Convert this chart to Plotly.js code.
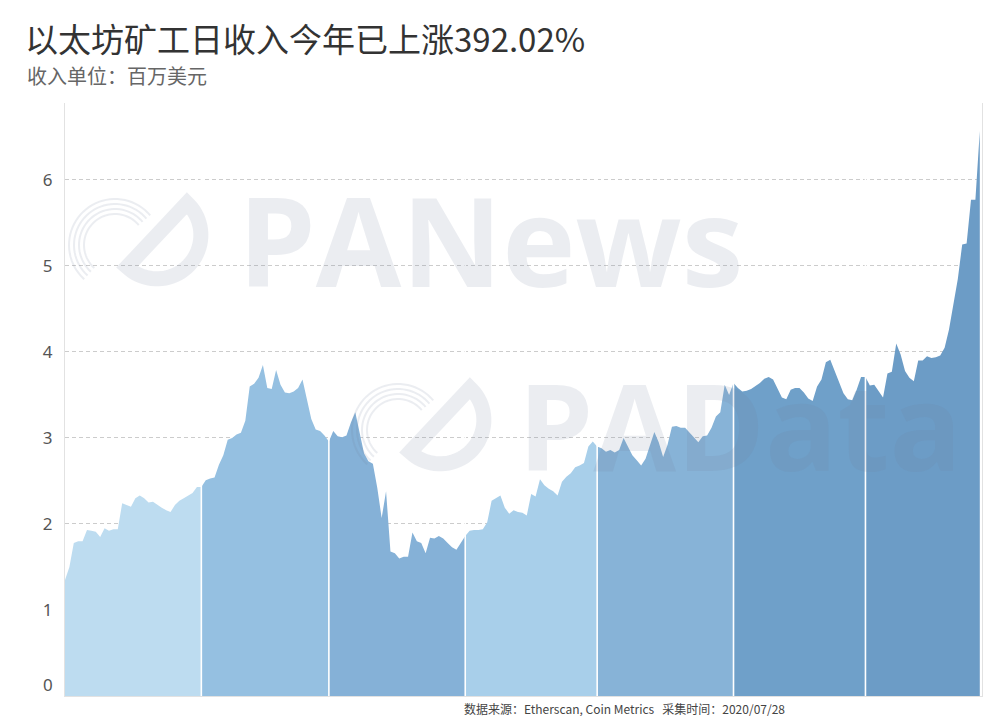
<!DOCTYPE html>
<html><head><meta charset="utf-8">
<script src="https://cdn.plot.ly/plotly-3.0.1.min.js"></script>
<style>html,body{margin:0;padding:0;overflow:hidden;background:#fff}#chart{width:1000px;height:716px}</style>
</head><body><div id="chart"></div>
<script>
// ---- data (millions USD, daily miner revenue, 2020) ----
const months = ['2020-01','2020-02','2020-03','2020-04','2020-05','2020-06','2020-07'];
const jan = [1.35,1.50,1.78,1.80,1.80,1.93,1.92,1.91,1.85,1.95,1.92,1.94,1.94,2.24,2.22,2.20,2.30,2.33,2.30,2.25,2.26,2.22,2.19,2.16,2.14,2.22,2.27,2.30,2.33,2.36,2.43];
const feb = [2.43,2.51,2.53,2.54,2.69,2.80,2.98,3.00,3.04,3.06,3.20,3.60,3.63,3.70,3.85,3.58,3.57,3.79,3.62,3.53,3.52,3.54,3.58,3.68,3.45,3.22,3.10,3.08,3.03];
const mar = [2.96,3.08,3.02,3.01,3.03,3.18,3.30,3.05,2.82,2.73,2.70,2.42,2.07,2.38,1.68,1.66,1.60,1.62,1.62,1.90,1.80,1.78,1.66,1.84,1.83,1.86,1.83,1.78,1.73,1.70,1.78];
const apr = [1.86,1.92,1.93,1.93,1.94,2.02,2.27,2.30,2.33,2.19,2.12,2.16,2.14,2.13,2.10,2.35,2.32,2.52,2.45,2.41,2.38,2.33,2.49,2.55,2.59,2.66,2.68,2.71,2.90,2.96];
const may = [2.90,2.88,2.84,2.86,2.83,2.86,3.00,2.90,2.80,2.74,2.68,2.76,2.92,3.07,2.95,2.78,2.92,3.13,3.14,3.12,3.12,3.06,3.01,2.95,3.02,3.03,3.12,3.25,3.30,3.62,3.50];
const jun = [3.64,3.58,3.54,3.55,3.57,3.60,3.64,3.69,3.71,3.68,3.58,3.47,3.45,3.56,3.58,3.58,3.53,3.46,3.43,3.60,3.68,3.88,3.91,3.78,3.65,3.52,3.45,3.44,3.56,3.71];
const jul = [3.71,3.61,3.62,3.54,3.47,3.75,3.77,4.10,3.97,3.78,3.70,3.66,3.90,3.90,3.95,3.93,3.94,3.96,4.05,4.26,4.55,4.85,5.25,5.26,5.77,5.77,6.57];
const monthColors = ['#bddcf0','#95c0e1','#85b1d7','#a8cfea','#87b3d7','#6fa0c9','#6c9cc6'];
const yTicks = [1,2,3,4,5,6];
const titleText = '以太坊矿工日收入今年已上涨392.02%';
const subtitleText = '收入单位：百万美元';
const sourceText = '数据来源：Etherscan, Coin Metrics   采集时间：2020/07/28';

const series = [jan,feb,mar,apr,may,jun,jul];
function dateOf(m, d){ return months[m] + '-' + String(d+1).padStart(2,'0'); }

const traces = series.map((vals, m) => {
  const x = vals.map((v,i) => dateOf(m,i));
  const y = vals.slice();
  if (m < series.length - 1) { x.push(dateOf(m+1,0)); y.push(series[m+1][0]); }
  return {type:'scatter', mode:'lines', x:x, y:y, fill:'tozeroy',
    fillcolor: monthColors[m], line:{width:0, color: monthColors[m]},
    hoverinfo:'skip', showlegend:false};
});

// ---- layout helpers (pixel -> paper) ----
const L = 65, T = 103, W = 917, H = 593;
const px = x => (x - L) / W;
const py = y => (T + H - y) / H;
const wm = 'rgba(110,125,155,0.14)';

function arcPts(cx, cy, r, a0, a1, n){
  const pts = [];
  for (let i = 0; i <= n; i++){
    const a = (a0 + (a1 - a0) * i / n) * Math.PI / 180;
    pts.push([cx + r * Math.cos(a), cy - r * Math.sin(a)]);
  }
  return pts;
}
function pathOf(pts, close){
  return pts.map((p,i) => (i ? 'L' : 'M') + px(p[0]).toFixed(5) + ',' + py(p[1]).toFixed(5)).join(' ') + (close ? ' Z' : '');
}
function logoShapes(dx, dy){
  const s = [];
  [46,41,36,31].forEach(r => {
    s.push({type:'path', xref:'paper', yref:'paper', layer:'above',
      path: pathOf(arcPts(398+dx, 430+dy, r, 40, 228, 40), false),
      line:{color:wm, width:2}});
  });
  const A = [410+dx, 452+dy], B = [470+dx, 388+dy];
  const cx = (A[0]+B[0])/2, cy = (A[1]+B[1])/2;
  const r = Math.hypot(B[0]-A[0], B[1]-A[1]) / 2;
  const a0 = Math.atan2(-(B[1]-cy), B[0]-cx) * 180 / Math.PI;
  const ptsD = [A, B].concat(arcPts(cx, cy, r, a0, a0 - 180, 40));
  s.push({type:'path', xref:'paper', yref:'paper', layer:'above',
    path: pathOf(ptsD, true), line:{color:wm, width:15}});
  return s;
}

const shapes = [];
for (let m = 1; m < series.length; m++){
  shapes.push({type:'line', xref:'x', yref:'paper', x0:dateOf(m,0), x1:dateOf(m,0), y0:0, y1:1,
    line:{color:'#ffffff', width:1.6}, layer:'above'});
}
logoShapes(0,0).forEach(s => shapes.push(s));
logoShapes(-283,-185).forEach(s => shapes.push(s));

const tickFont = {family:'Noto Sans, sans-serif', size:17, color:'#555555'};
const annotations = [
  {text:subtitleText, xref:'paper', yref:'paper', x:px(25), y:py(76), xanchor:'left', yanchor:'middle',
   showarrow:false, font:{family:'Noto Sans CJK SC, sans-serif', size:20, color:'#666666'}},
  {text:'0', xref:'paper', yref:'paper', x:px(55), y:py(684), xanchor:'right', yanchor:'middle',
   showarrow:false, font:tickFont},
  {text:sourceText, xref:'paper', yref:'paper', x:px(462), y:py(698), xanchor:'left', yanchor:'top',
   showarrow:false, font:{family:'Noto Sans CJK SC, sans-serif', size:12, color:'#444444'}},
  {text:'PANews', xref:'paper', yref:'paper', x:px(236), y:py(238), xanchor:'left', yanchor:'middle',
   showarrow:false, font:{family:'Open Sans, sans-serif', size:124, weight:700, color:wm}},
  {text:'PAData', xref:'paper', yref:'paper', x:px(516), y:py(424), xanchor:'left', yanchor:'middle',
   showarrow:false, font:{family:'Open Sans, sans-serif', size:120, weight:700, color:wm}}
];

const layout = {
  width:1000, height:716,
  margin:{l:L, r:1000-L-W, t:T, b:716-T-H, pad:0},
  paper_bgcolor:'#ffffff', plot_bgcolor:'#ffffff',
  title:{text:titleText, x:25/1000, xref:'container', xanchor:'left', y:1-40/716, yref:'container', yanchor:'middle',
    font:{family:'Noto Sans CJK SC, sans-serif', size:33, color:'#333333'}},
  xaxis:{type:'date', range:['2020-01-01','2020-07-27 12:00'], showgrid:false, showticklabels:false,
    ticks:'', showline:true, linecolor:'#e2e2e2', linewidth:1, zeroline:false, fixedrange:true},
  yaxis:{range:[0, 6.895], tickvals:yTicks, ticktext:yTicks.map(String), showgrid:true, gridcolor:'#cccccc',
    griddash:'4px,3px', gridwidth:1, showline:true, mirror:true, linecolor:'#e2e2e2', linewidth:1,
    zeroline:false, ticks:'', ticklabelstandoff:8, tickfont:tickFont, fixedrange:true},
  shapes:shapes, annotations:annotations, showlegend:false
};

Plotly.newPlot('chart', traces, layout, {displayModeBar:false, staticPlot:true});
</script></body></html>
